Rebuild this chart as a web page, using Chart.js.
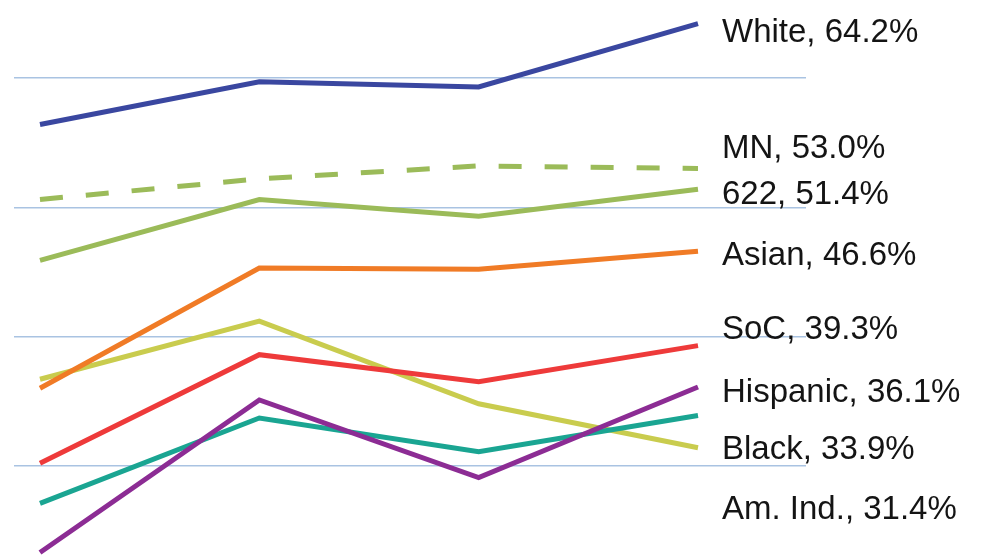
<!DOCTYPE html>
<html>
<head>
<meta charset="utf-8">
<script src="https://cdn.jsdelivr.net/npm/chart.js@4/dist/chart.umd.min.js"></script>
<style>
  html, body { margin: 0; padding: 0; background: #ffffff; }
  #wrap { width: 984px; height: 556px; position: relative; }
</style>
</head>
<body>
<div id="wrap"><canvas id="c"></canvas></div>
<script>
// ---- data ----
const categories = ['Year 1', 'Year 2', 'Year 3', 'Year 4'];
const seriesNames = ['White', 'MN', '622', 'Asian', 'SoC', 'Hispanic', 'Black', 'Am. Ind.'];
const white    = [56.4, 59.7, 59.3, 64.2];
const mn       = [50.6, 52.2, 53.2, 53.0];
const d622     = [45.9, 50.6, 49.3, 51.4];
const asian    = [36.0, 45.3, 45.2, 46.6];
const soc      = [30.2, 38.6, 36.5, 39.3];
const hispanic = [23.3, 35.1, 29.1, 36.1];
const black    = [27.1, 33.7, 31.1, 33.9];
const amInd    = [36.7, 41.2, 34.8, 31.4];
const gridTicks = [30, 40, 50, 60];

const seriesValues = [white, mn, d622, asian, soc, hispanic, black, amInd];
const colors = ['#3A47A0', '#9BBB59', '#9BBB59', '#F07B26', '#EE3A3A', '#8C2C94', '#1AA592', '#C9CC4E'];
const dashes = [[], [23, 23], [], [], [], [], [], []];
// label baselines (layout only)
const labelBaselines = [42, 158, 204, 265, 339, 402, 459, 519];

const datasets = seriesNames.map((name, i) => ({
  label: name,
  data: seriesValues[i].map((v, k) => ({ x: k, y: v })),
  borderColor: colors[i],
  backgroundColor: colors[i],
  borderWidth: 5,
  borderDash: dashes[i],
  pointRadius: 0,
  tension: 0,
  fill: false
}));

const endLabels = {
  id: 'endLabels',
  afterDatasetsDraw(chart) {
    const ctx = chart.ctx;
    ctx.save();
    ctx.font = '33px "Liberation Sans", Arial, sans-serif';
    ctx.fillStyle = '#141414';
    ctx.textBaseline = 'alphabetic';
    ctx.textAlign = 'left';
    seriesNames.forEach((name, i) => {
      const vals = seriesValues[i];
      const last = vals[vals.length - 1];
      ctx.fillText(name + ', ' + last.toFixed(1) + '%', 722, labelBaselines[i]);
    });
    ctx.restore();
  }
};

new Chart(document.getElementById('c'), {
  type: 'line',
  data: { labels: categories, datasets },
  options: {
    responsive: true,
    maintainAspectRatio: false,
    animation: false,
    layout: { padding: { left: 14, right: 178, top: 0, bottom: 0 } },
    plugins: { legend: { display: false }, tooltip: { enabled: false } },
    scales: {
      x: {
        type: 'linear',
        display: false,
        min: -0.1185,
        max: 3.4924
      },
      y: {
        type: 'linear',
        min: 23.03,
        max: 66.03,
        afterBuildTicks(scale) { scale.ticks = gridTicks.map(v => ({ value: v })); },
        afterFit(scale) { scale.width = 0; },
        ticks: { display: false },
        border: { display: false },
        grid: { color: '#A9C3E2', lineWidth: 1.5, drawTicks: false }
      }
    }
  },
  plugins: [endLabels]
});
</script>
</body>
</html>
